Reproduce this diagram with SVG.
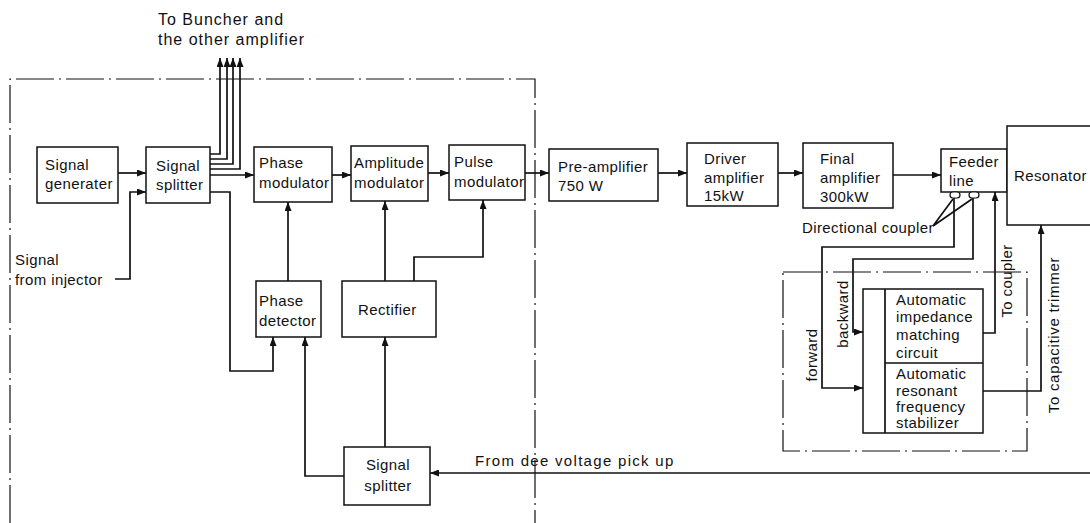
<svg xmlns="http://www.w3.org/2000/svg" width="1090" height="523" viewBox="0 0 1090 523">
<style>
text{font-family:"Liberation Sans",Arial,sans-serif;font-size:15px;fill:#111;letter-spacing:0.4px}
.box{fill:#fff;stroke:#111;stroke-width:1.5}
.ln{fill:none;stroke:#111;stroke-width:1.7}
.arr{fill:none;stroke:#111;stroke-width:1.7;marker-end:url(#ah)}
.dd{fill:none;stroke:#111;stroke-width:1.2;stroke-dasharray:38 5 2 5}
.big{font-size:16px;letter-spacing:1px}
</style>
<defs>
<marker id="ah" markerWidth="9" markerHeight="7" refX="9" refY="3.5" orient="auto" markerUnits="userSpaceOnUse">
<path d="M0,0 L9,3.5 L0,7 z" fill="#111"/>
</marker>
</defs>
<rect width="1090" height="523" fill="#fff"/>

<g id="frames">
<path class="dd" d="M10,523 V79 H535 V523"/>
<path class="dd" d="M783,272 H1027 V451 H783 Z"/>
</g>

<g id="title">
<text class="big" x="158" y="25">To Buncher and</text>
<text class="big" x="158" y="45">the other amplifier</text>
</g>

<g id="connectors">
<path class="arr" d="M118,173 H146"/>
<path class="arr" d="M115,279 H130 V192 H146"/>
<path class="arr" d="M210,154 H220 V58"/>
<path class="arr" d="M210,159 H227 V58"/>
<path class="arr" d="M210,164 H233 V58"/>
<path class="arr" d="M210,169 H240 V58"/>
<path class="arr" d="M210,175 H254"/>
<path class="arr" d="M210,192 H230 V371 H273 V337"/>
<path class="arr" d="M288,281 V202"/>
<path class="arr" d="M332,175 H351"/>
<path class="arr" d="M428,173 H449"/>
<path class="arr" d="M525,173 H549"/>
<path class="arr" d="M385,281 V201"/>
<path class="arr" d="M414,281 V257 H483 V200"/>
<path class="arr" d="M385,447 V337"/>
<path class="arr" d="M344,476 H305 V337"/>
<path class="arr" d="M1090,473 H430"/>
<path class="arr" d="M658,173 H687"/>
<path class="arr" d="M778,173 H803"/>
<path class="arr" d="M893,175 H941"/>
<path class="arr" d="M954,198 V247 H822 V388 H863"/>
<path class="arr" d="M973,198 V259 H853 V332 H863"/>
<path class="arr" d="M983,333 H995 V192"/>
<path class="arr" d="M983,391 H1041 V225"/>
<path class="ln" d="M933,226 L953,199 M933,226 L972,199" stroke-width="1.2"/>
</g>

<g id="signal-generater">
<rect class="box" x="37" y="147" width="81" height="56"/>
<text x="45" y="170">Signal</text>
<text x="45" y="189">generater</text>
</g>

<g id="signal-splitter-top">
<rect class="box" x="146" y="147" width="64" height="56"/>
<text x="156" y="171">Signal</text>
<text x="156" y="190">splitter</text>
</g>

<g id="phase-modulator">
<rect class="box" x="254" y="147" width="78" height="55"/>
<text x="259" y="168">Phase</text>
<text x="259" y="188">modulator</text>
</g>

<g id="amplitude-modulator">
<rect class="box" x="351" y="146" width="77" height="55"/>
<text x="354" y="168">Amplitude</text>
<text x="354" y="188">modulator</text>
</g>

<g id="pulse-modulator">
<rect class="box" x="449" y="145" width="76" height="55"/>
<text x="454" y="167">Pulse</text>
<text x="454" y="187">modulator</text>
</g>

<g id="phase-detector">
<rect class="box" x="256" y="281" width="65" height="56"/>
<text x="259" y="306">Phase</text>
<text x="259" y="326">detector</text>
</g>

<g id="rectifier">
<rect class="box" x="342" y="281" width="94" height="56"/>
<text x="358" y="315">Rectifier</text>
</g>

<g id="signal-splitter-bottom">
<rect class="box" x="344" y="447" width="86" height="58"/>
<text x="388" y="470" text-anchor="middle">Signal</text>
<text x="388" y="491" text-anchor="middle">splitter</text>
</g>

<g id="pre-amplifier">
<rect class="box" x="549" y="149" width="109" height="52"/>
<text x="558" y="172">Pre-amplifier</text>
<text x="558" y="191">750 W</text>
</g>

<g id="driver-amplifier">
<rect class="box" x="687" y="143" width="91" height="63"/>
<text x="704" y="164">Driver</text>
<text x="704" y="183">amplifier</text>
<text x="704" y="201">15kW</text>
</g>

<g id="final-amplifier">
<rect class="box" x="803" y="143" width="90" height="65"/>
<text x="820" y="164">Final</text>
<text x="820" y="183">amplifier</text>
<text x="820" y="202">300kW</text>
</g>

<g id="feeder-line">
<rect class="box" x="941" y="149" width="66" height="43"/>
<text x="949" y="167">Feeder</text>
<text x="949" y="186">line</text>
<rect x="950" y="192" width="10" height="6" rx="3" fill="#fff" stroke="#111" stroke-width="1.2"/>
<rect x="969" y="192" width="10" height="6" rx="3" fill="#fff" stroke="#111" stroke-width="1.2"/>
</g>

<g id="resonator">
<rect class="box" x="1007" y="126" width="100" height="99"/>
<text x="1014" y="181">Resonator</text>
</g>

<g id="control-unit">
<rect class="box" x="863" y="289" width="120" height="144"/>
<path class="ln" d="M885,289 V433 M885,363 H983" stroke-width="1.4"/>
<text x="896" y="305">Automatic</text>
<text x="896" y="322">impedance</text>
<text x="896" y="340">matching</text>
<text x="896" y="358">circuit</text>
<text x="896" y="379">Automatic</text>
<text x="896" y="396">resonant</text>
<text x="896" y="412">frequency</text>
<text x="896" y="428">stabilizer</text>
</g>

<g id="labels">
<text x="15" y="265">Signal</text>
<text x="15" y="285">from injector</text>
<text x="802" y="233">Directional coupler</text>
<text x="475" y="466" style="letter-spacing:1.3px">From dee voltage pick up</text>
<text transform="translate(817,355) rotate(-90)" text-anchor="middle">forward</text>
<text transform="translate(848,314) rotate(-90)" text-anchor="middle">backward</text>
<text transform="translate(1012,281) rotate(-90)" text-anchor="middle">To coupler</text>
<text transform="translate(1059,335) rotate(-90)" text-anchor="middle" style="letter-spacing:0.7px">To capacitive trimmer</text>
</g>
</svg>
